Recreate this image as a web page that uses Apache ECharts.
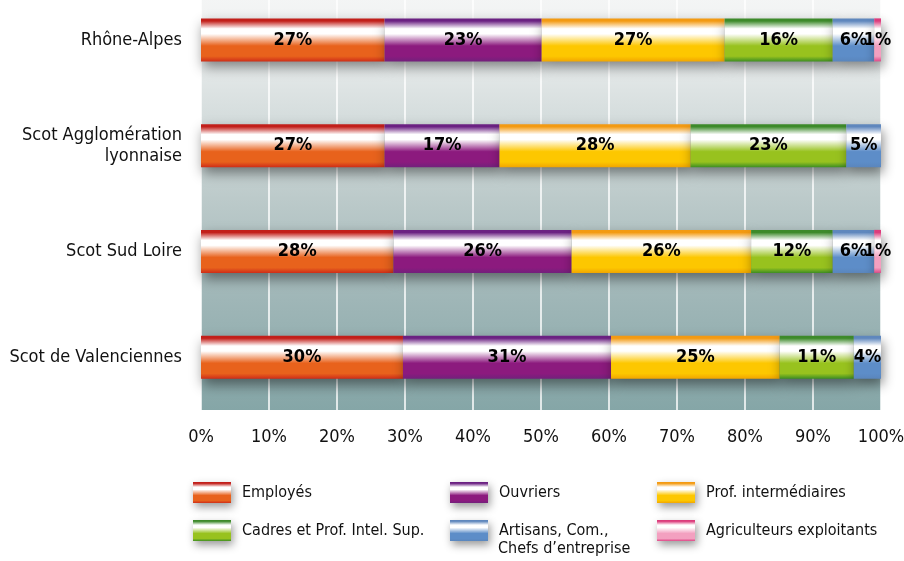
<!DOCTYPE html>
<html><head><meta charset="utf-8">
<script src="https://cdn.jsdelivr.net/npm/echarts@6/dist/echarts.min.js"></script>
<style>html,body{margin:0;padding:0;background:#fff}#c{width:904px;height:561px}</style>
</head><body><div id="c"></div>
<script>
const categories = ['Rhône-Alpes', 'Scot Agglomération\nlyonnaise', 'Scot Sud Loire', 'Scot de Valenciennes'];
const seriesNames = ['Employés', 'Ouvriers', 'Prof. intermédiaires', 'Cadres et Prof. Intel. Sup.', 'Artisans, Com., Chefs d’entreprise', 'Agriculteurs exploitants'];
const employes = [27.0, 27.0, 28.3, 29.7];
const ouvriers = [23.1, 16.9, 26.2, 30.6];
const profInter = [26.9, 28.1, 26.4, 24.8];
const cadres = [15.9, 22.9, 12.0, 10.9];
const artisans = [6.1, 5.1, 6.1, 4.0];
const agriculteurs = [1.0, 0.0, 1.0, 0.0];
const xTicks = [0, 10, 20, 30, 40, 50, 60, 70, 80, 90, 100];

const FONT = "'Liberation Sans Narrow', 'DejaVu Sans Condensed', 'Open Sans', sans-serif";
const palettes = [
  ['#c21f1a', '#ffffff', '#e8621c', '#cf2e18'],
  ['#6b2182', '#ffffff', '#8c1a7e', '#73207c'],
  ['#f39a12', '#ffffff', '#fdc700', '#f2a600'],
  ['#3d8a2a', '#ffffff', '#98c21e', '#3f8f22'],
  ['#5f87bd', '#ffffff', '#5d8dc8', '#5a86bd'],
  ['#dc3c7c', '#ffffff', '#f3a0c0', '#e04888']
];
function grad(p) {
  return new echarts.graphic.LinearGradient(0, 0, 0, 1, [
    {offset: 0, color: p[0]},
    {offset: 0.06, color: p[0]},
    {offset: 0.24, color: p[1]},
    {offset: 0.36, color: p[1]},
    {offset: 0.64, color: p[2]},
    {offset: 0.88, color: p[2]},
    {offset: 1, color: p[3]}
  ]);
}
const allData = [employes, ouvriers, profInter, cadres, artisans, agriculteurs];
const series = allData.map((d, i) => ({
  name: seriesNames[i],
  type: 'bar',
  stack: 'total',
  barWidth: 43,
  data: d,
  itemStyle: {
    color: grad(palettes[i]),
    shadowColor: 'rgba(0,0,0,0.45)',
    shadowBlur: 12,
    shadowOffsetY: 6,
    shadowOffsetX: 2
  },
  label: {
    show: true,
    position: 'inside',
    color: '#000',
    fontFamily: FONT,
    fontWeight: 'bold',
    fontSize: 18,
    formatter: p => p.value >= 0.5 ? Math.round(p.value) + '%' : ''
  }
}));

const legendPos = [
  [193, 482], [450, 482], [657, 482],
  [193, 520], [450, 520], [657, 520]
];
const legends = seriesNames.map((n, i) => ({
  data: [n],
  left: legendPos[i][0],
  top: legendPos[i][1],
  padding: 0,
  itemWidth: 38,
  itemHeight: 21,
  itemGap: 0,
  icon: 'rect',
  selectedMode: false,
  itemStyle: {shadowColor: 'rgba(0,0,0,0.4)', shadowBlur: 8, shadowOffsetY: 4, shadowOffsetX: 2},
  formatter: name => name === seriesNames[4] ? 'Artisans, Com.,' : name,
  textStyle: {fontFamily: FONT, fontSize: 16, color: '#111', padding: [0, 0, 0, 6]}
}));

const chart = echarts.init(document.getElementById('c'), null, {renderer: 'canvas'});
chart.setOption({
  animation: false,
  grid: {
    left: 201, right: 23, top: -13, bottom: 151,
    outerBoundsMode: 'none',
    containLabel: false,
    show: true, borderWidth: 0,
    backgroundColor: new echarts.graphic.LinearGradient(0, 0, 0, 1, [
      {offset: 0, color: '#f5f6f6'},
      {offset: 0.12, color: '#eff1f1'},
      {offset: 0.244, color: '#dde3e3'},
      {offset: 0.5, color: '#bccaca'},
      {offset: 0.74, color: '#9fb6b7'},
      {offset: 1, color: '#85a6a7'}
    ])
  },
  xAxis: {
    type: 'value', min: 0, max: 100, interval: 10,
    axisLine: {show: false}, axisTick: {show: false},
    splitLine: {show: true, lineStyle: {color: '#ffffff', width: 1.5}},
    axisLabel: {
      margin: 18, fontFamily: FONT, fontSize: 18, color: '#111',
      formatter: v => xTicks.includes(v) ? v + '%' : ''
    }
  },
  yAxis: {
    type: 'category', data: categories, inverse: true,
    axisLine: {show: false}, axisTick: {show: false},
    axisLabel: {margin: 19, fontFamily: FONT, fontSize: 18, color: '#111', lineHeight: 21, align: 'right'}
  },
  legend: legends,
  graphic: [{
    type: 'text', left: 498, top: 541,
    style: {text: 'Chefs d’entreprise', font: "16px " + FONT, fill: '#111'}
  }],
  series: series
});
</script></body></html>
